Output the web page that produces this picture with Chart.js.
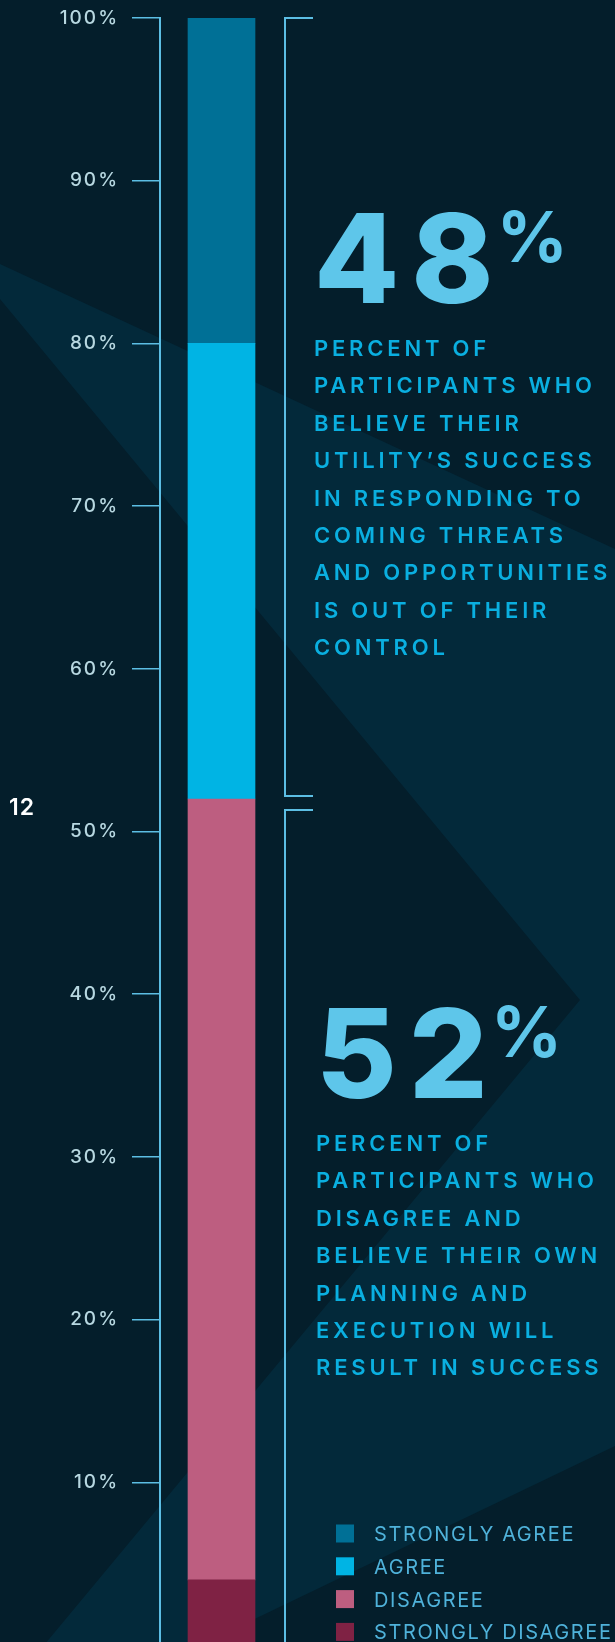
<!DOCTYPE html>
<html>
<head>
<meta charset="utf-8">
<script src="https://cdn.jsdelivr.net/npm/chart.js@4/dist/chart.umd.min.js"></script>
<style>
    html, body { margin: 0; padding: 0; background: #041e2b; overflow: hidden; }
    canvas { display: block; }
</style>
</head>
<body>
<canvas id="surveyChart" width="615" height="1650"></canvas>
<script>
const categories = ['Responses'];
const seriesNames = ['STRONGLY DISAGREE', 'DISAGREE', 'AGREE', 'STRONGLY AGREE'];
const seriesValues = [4, 48, 28, 20];
const seriesColors = ['#7f2244', '#bd5e80', '#00b4e4', '#007096'];
const tickValues = [0, 10, 20, 30, 40, 50, 60, 70, 80, 90, 100];

const agreeText = ['PERCENT OF', 'PARTICIPANTS WHO', 'BELIEVE THEIR', 'UTILITY\u2019S SUCCESS',
    'IN RESPONDING TO', 'COMING THREATS', 'AND OPPORTUNITIES', 'IS OUT OF THEIR', 'CONTROL'];
const disagreeText = ['PERCENT OF', 'PARTICIPANTS WHO', 'DISAGREE AND', 'BELIEVE THEIR OWN',
    'PLANNING AND', 'EXECUTION WILL', 'RESULT IN SUCCESS'];
const pageNumber = '12';

const lineBlue = '#5cbee4';
const fontFamily = 'Inter, "Noto Sans", sans-serif';

const agreeTotal = seriesValues[2] + seriesValues[3];
const disagreeTotal = seriesValues[0] + seriesValues[1];

// background facets behind the chart
const backdrop = {
    id: 'backdrop',
    beforeDraw(chart) {
        const c = chart.ctx;
        c.save();
        c.fillStyle = '#041e2b';
        c.fillRect(0, 0, chart.width, chart.height);
        c.fillStyle = '#03293a';
        c.beginPath();
        c.moveTo(0, 264);
        c.lineTo(615, 549);
        c.lineTo(615, 1446);
        c.lineTo(190, 1650);
        c.lineTo(40, 1650);
        c.lineTo(580, 1000);
        c.lineTo(0, 299);
        c.closePath();
        c.fill();
        c.restore();
        c.letterSpacing = '2px';
    }
};

function spacedText(c, text, x, y, font, color, spacing) {
    c.font = font;
    c.fillStyle = color;
    c.letterSpacing = spacing + 'px';
    c.fillText(text, x, y);
    return c.measureText(text).width;
}

function drawCallout(c, total, lines, x, baseline) {
    c.textAlign = 'left';
    c.textBaseline = 'alphabetic';
    const w = spacedText(c, String(total), x, baseline, '800 124px ' + fontFamily, '#5ec6ea', 12);
    spacedText(c, '%', x + w - 9, baseline - 41, '700 70px ' + fontFamily, '#5ec6ea', 0);
    lines.forEach((line, i) => {
        spacedText(c, line, x, baseline + 53 + i * 37.4, '600 22px ' + fontFamily, '#0aafe0', 3.8);
    });
}

const annotations = {
    id: 'annotations',
    afterDraw(chart) {
        const c = chart.ctx;
        const y = chart.scales.y;
        const top = y.getPixelForValue(100);
        const split = y.getPixelForValue(disagreeTotal);
        const bottom = chart.height + 10;

        c.save();
        c.letterSpacing = '0px';

        // brackets around each half of the bar
        c.strokeStyle = lineBlue;
        c.lineWidth = 2;
        c.beginPath();
        c.moveTo(313, top);
        c.lineTo(285, top);
        c.lineTo(285, split - 3);
        c.lineTo(313, split - 3);
        c.moveTo(313, split + 11);
        c.lineTo(285, split + 11);
        c.lineTo(285, bottom);
        c.stroke();

        drawCallout(c, agreeTotal, agreeText, 314, 303);
        drawCallout(c, disagreeTotal, disagreeText, 316, 1098);

        // legend, top to bottom from strongly agree
        for (let i = 0; i < seriesNames.length; i++) {
            const idx = seriesNames.length - 1 - i;
            const cy = 1533.5 + i * 32.8;
            c.fillStyle = seriesColors[idx];
            c.fillRect(336, cy - 9, 18, 18);
            spacedText(c, seriesNames[idx], 374, cy + 7.5, '400 20px ' + fontFamily, '#4fb2da', 1.6);
        }

        spacedText(c, pageNumber, 9, 815, '600 23px ' + fontFamily, '#ffffff', 1);
        c.restore();
    }
};

const surveyChart = document.getElementById('surveyChart');

new Chart(surveyChart, {
    type: 'bar',
    data: {
        labels: categories,
        datasets: seriesNames.map((name, i) => ({
            label: name,
            data: [seriesValues[i]],
            backgroundColor: seriesColors[i],
            borderWidth: 0,
            barThickness: 67
        }))
    },
    options: {
        responsive: false,
        animation: false,
        layout: {
            padding: { top: 18, bottom: 5, left: 0, right: 332 }
        },
        plugins: {
            legend: { display: false },
            tooltip: { enabled: false }
        },
        scales: {
            x: {
                stacked: true,
                display: false
            },
            y: {
                stacked: true,
                min: 0,
                max: 100,
                afterFit: scale => {
                    scale.width = 160;
                    scale.paddingTop = 0;
                    scale.paddingBottom = 0;
                },
                afterBuildTicks: scale => {
                    scale.ticks = tickValues.map(v => ({ value: v }));
                },
                border: { display: true, color: lineBlue, width: 2 },
                grid: {
                    drawOnChartArea: false,
                    drawTicks: true,
                    tickLength: 28,
                    color: lineBlue,
                    lineWidth: 1.5
                },
                ticks: {
                    padding: 13,
                    color: '#b7d7e0',
                    font: { family: fontFamily, size: 19, weight: '500' },
                    callback: v => v === 0 ? '' : v + '%'
                }
            }
        }
    },
    plugins: [backdrop, annotations]
});
</script>
</body>
</html>
